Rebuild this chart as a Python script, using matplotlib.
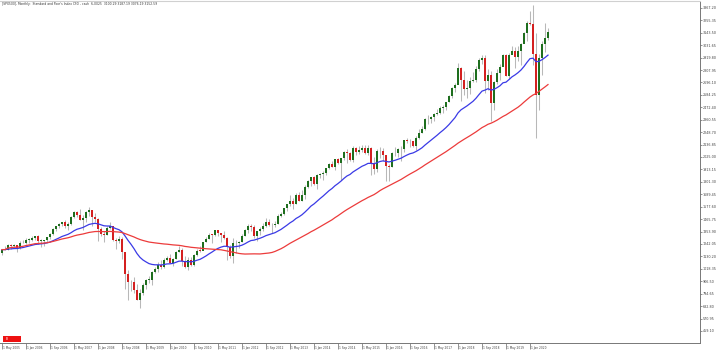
import matplotlib
matplotlib.use('Agg')
import matplotlib.pyplot as plt
import matplotlib.transforms as mtransforms
from matplotlib.patches import Rectangle
import numpy as np
import pandas as pd

# ---------------- data (monthly bars, May 2005 .. Jul 2020) ----------------
start_month = '2005-05-01'

opens = [
    1156.85, 1191.50, 1191.33, 1234.18, 1220.33, 1228.81, 1207.01, 1249.48,
    1248.29, 1280.08, 1280.66, 1294.87, 1310.61, 1270.09, 1270.20, 1276.66, 1303.82, 1335.85, 1377.94, 1400.63,
    1418.30, 1438.24, 1406.82, 1420.86, 1482.37, 1530.62, 1503.35, 1455.27, 1473.99, 1526.75, 1549.38, 1481.14,
    1468.36, 1378.55, 1330.63, 1322.70, 1385.59, 1400.38, 1280.00, 1267.38, 1282.83, 1166.36, 968.75, 896.24,
    903.25, 825.88, 735.09, 797.87, 872.81, 919.14, 919.32, 987.48, 1020.62, 1057.08, 1036.19, 1095.63,
    1115.10, 1073.87, 1104.49, 1169.43, 1186.69, 1089.41, 1030.71, 1101.60, 1049.33, 1141.20, 1183.26, 1180.55,
    1257.64, 1286.12, 1327.22, 1325.83, 1363.61, 1345.20, 1320.64, 1292.28, 1218.89, 1131.42, 1253.30, 1246.96,
    1257.60, 1312.41, 1365.68, 1408.47, 1397.91, 1310.33, 1362.16, 1379.32, 1406.58, 1440.67, 1412.16, 1416.18,
    1426.19, 1498.11, 1514.68, 1569.19, 1597.57, 1630.74, 1606.28, 1685.73, 1632.97, 1681.55, 1756.54, 1805.81,
    1848.36, 1782.59, 1859.45, 1872.34, 1883.95, 1923.57, 1960.23, 1930.67, 2003.37, 1972.29, 2018.05, 2067.56,
    2058.90, 1994.99, 2104.50, 2067.89, 2085.51, 2107.39, 2063.11, 2103.84, 1972.18, 1920.03, 2079.36, 2080.41,
    2043.94, 1940.24, 1932.23, 2059.74, 2065.30, 2096.95, 2098.86, 2173.60, 2170.95, 2168.27, 2126.15, 2198.81,
    2238.83, 2278.87, 2363.64, 2362.72, 2384.20, 2411.80, 2423.41, 2470.30, 2471.65, 2519.36, 2575.26, 2647.58,
    2673.61, 2823.81, 2713.83, 2640.87, 2648.05, 2705.27, 2718.37, 2816.29, 2901.52, 2913.98, 2711.74, 2760.17,
    2506.85, 2704.10, 2784.49, 2834.40, 2945.83, 2752.06, 2941.76, 2980.38, 2926.46, 2976.74, 3037.56, 3140.98,
    3230.78, 3225.52, 2954.22, 2584.59, 2912.43, 3044.31, 3100.29,
]

highs = [
    1199.56, 1219.59, 1245.15, 1245.86, 1243.13, 1233.34, 1270.64, 1275.80,
    1294.90, 1297.57, 1310.88, 1318.16, 1326.70, 1290.68, 1280.42, 1306.74, 1340.28, 1389.45, 1407.89, 1431.81,
    1441.61, 1461.57, 1438.89, 1498.02, 1535.56, 1540.56, 1555.90, 1503.89, 1538.74, 1576.09, 1545.79, 1523.57,
    1471.77, 1396.02, 1359.68, 1404.57, 1440.24, 1404.05, 1292.17, 1313.15, 1303.04, 1167.03, 1007.51, 918.85,
    943.85, 877.86, 832.98, 888.70, 930.17, 956.23, 996.68, 1039.47, 1080.15, 1101.36, 1113.69, 1130.38,
    1150.45, 1112.42, 1180.16, 1219.80, 1207.12, 1131.23, 1120.95, 1129.24, 1148.90, 1196.14, 1227.08, 1262.60,
    1302.67, 1344.07, 1332.28, 1366.63, 1370.58, 1345.20, 1356.48, 1307.38, 1229.29, 1292.66, 1277.55, 1269.37,
    1333.47, 1378.04, 1419.15, 1422.38, 1415.32, 1363.46, 1391.74, 1426.68, 1474.51, 1470.96, 1434.27, 1448.00,
    1509.94, 1530.94, 1570.28, 1597.35, 1687.18, 1654.19, 1698.78, 1709.67, 1729.86, 1775.22, 1813.55, 1849.44,
    1850.84, 1867.92, 1883.97, 1897.28, 1924.03, 1968.17, 1991.39, 2005.04, 2019.26, 2018.19, 2075.76, 2093.55,
    2072.36, 2119.59, 2117.52, 2125.92, 2134.72, 2129.87, 2132.82, 2112.66, 2020.86, 2094.32, 2116.48, 2104.27,
    2038.20, 1962.96, 2072.21, 2111.05, 2103.48, 2120.55, 2177.09, 2193.81, 2187.87, 2169.60, 2214.10, 2277.53,
    2300.99, 2371.54, 2400.98, 2398.16, 2418.71, 2453.82, 2484.04, 2490.87, 2519.44, 2582.98, 2657.74, 2694.97,
    2872.87, 2835.96, 2801.90, 2717.49, 2742.24, 2791.47, 2848.03, 2916.50, 2940.91, 2939.86, 2815.15, 2800.18,
    2708.95, 2813.49, 2860.31, 2949.52, 2954.13, 2964.15, 3027.98, 3013.59, 3021.99, 3050.10, 3154.26, 3247.93,
    3337.77, 3393.52, 3136.72, 2954.86, 3068.67, 3233.13, 3187.19,
]

lows = [
    1146.18, 1188.30, 1183.55, 1201.07, 1205.35, 1168.20, 1201.07, 1246.59,
    1245.74, 1253.61, 1268.42, 1280.74, 1245.34, 1219.29, 1224.54, 1261.30, 1290.93, 1327.10, 1360.98, 1385.93,
    1403.97, 1389.42, 1363.98, 1416.37, 1476.70, 1484.18, 1454.25, 1370.60, 1439.29, 1489.56, 1406.10, 1435.65,
    1270.05, 1316.75, 1256.98, 1324.35, 1373.72, 1272.00, 1200.44, 1248.64, 1106.42, 839.80, 741.02, 815.69,
    804.47, 734.52, 666.79, 783.32, 839.57, 888.86, 869.32, 978.51, 991.97, 1019.95, 1029.38, 1085.89,
    1071.59, 1044.50, 1105.24, 1170.69, 1040.78, 1028.33, 1010.91, 1039.70, 1041.11, 1131.87, 1173.00, 1186.60,
    1257.62, 1289.14, 1249.05, 1312.70, 1311.80, 1258.07, 1282.86, 1101.54, 1114.22, 1074.77, 1158.66, 1202.37,
    1257.60, 1312.41, 1340.03, 1357.38, 1291.98, 1266.74, 1325.41, 1354.65, 1396.56, 1403.28, 1343.35, 1398.11,
    1426.19, 1485.01, 1501.48, 1536.03, 1581.28, 1560.33, 1604.57, 1627.47, 1633.41, 1646.47, 1746.20, 1767.99,
    1770.45, 1737.92, 1834.44, 1814.36, 1859.79, 1915.98, 1930.67, 1904.78, 1964.04, 1820.66, 2001.01, 1972.56,
    1988.12, 1980.90, 2039.69, 2048.38, 2067.93, 2056.32, 2044.02, 1867.01, 1871.91, 1893.70, 2019.39, 1993.26,
    1812.29, 1810.10, 1937.09, 2033.80, 2025.91, 1991.68, 2074.02, 2147.58, 2119.12, 2114.72, 2083.79, 2187.44,
    2245.13, 2271.65, 2322.25, 2328.95, 2352.72, 2405.70, 2407.70, 2417.35, 2446.55, 2520.40, 2557.45, 2605.52,
    2682.36, 2532.69, 2585.89, 2553.80, 2594.62, 2698.95, 2698.95, 2796.34, 2864.12, 2603.54, 2631.09, 2346.58,
    2443.96, 2681.83, 2722.27, 2848.63, 2750.52, 2728.81, 2952.22, 2822.12, 2891.85, 2855.94, 3050.72, 3070.33,
    3214.64, 2855.84, 2191.86, 2447.49, 2766.64, 2965.66, 3076.19,
]

closes = [
    1191.50, 1191.33, 1234.18, 1220.33, 1228.81, 1207.01, 1249.48, 1248.29,
    1280.08, 1280.66, 1294.87, 1310.61, 1270.09, 1270.20, 1276.66, 1303.82, 1335.85, 1377.94, 1400.63, 1418.30,
    1438.24, 1406.82, 1420.86, 1482.37, 1530.62, 1503.35, 1455.27, 1473.99, 1526.75, 1549.38, 1481.14, 1468.36,
    1378.55, 1330.63, 1322.70, 1385.59, 1400.38, 1280.00, 1267.38, 1282.83, 1166.36, 968.75, 896.24, 903.25,
    825.88, 735.09, 797.87, 872.81, 919.14, 919.32, 987.48, 1020.62, 1057.08, 1036.19, 1095.63, 1115.10,
    1073.87, 1104.49, 1169.43, 1186.69, 1089.41, 1030.71, 1101.60, 1049.33, 1141.20, 1183.26, 1180.55, 1257.64,
    1286.12, 1327.22, 1325.83, 1363.61, 1345.20, 1320.64, 1292.28, 1218.89, 1131.42, 1253.30, 1246.96, 1257.60,
    1312.41, 1365.68, 1408.47, 1397.91, 1310.33, 1362.16, 1379.32, 1406.58, 1440.67, 1412.16, 1416.18, 1426.19,
    1498.11, 1514.68, 1569.19, 1597.57, 1630.74, 1606.28, 1685.73, 1632.97, 1681.55, 1756.54, 1805.81, 1848.36,
    1782.59, 1859.45, 1872.34, 1883.95, 1923.57, 1960.23, 1930.67, 2003.37, 1972.29, 2018.05, 2067.56, 2058.90,
    1994.99, 2104.50, 2067.89, 2085.51, 2107.39, 2063.11, 2103.84, 1972.18, 1920.03, 2079.36, 2080.41, 2043.94,
    1940.24, 1932.23, 2059.74, 2065.30, 2096.95, 2098.86, 2173.60, 2170.95, 2168.27, 2126.15, 2198.81, 2238.83,
    2278.87, 2363.64, 2362.72, 2384.20, 2411.80, 2423.41, 2470.30, 2471.65, 2519.36, 2575.26, 2647.58, 2673.61,
    2823.81, 2713.83, 2640.87, 2648.05, 2705.27, 2718.37, 2816.29, 2901.52, 2913.98, 2711.74, 2760.17, 2506.85,
    2704.10, 2784.49, 2834.40, 2945.83, 2752.06, 2941.76, 2980.38, 2926.46, 2976.74, 3037.56, 3140.98, 3230.78,
    3225.52, 2954.22, 2584.59, 2912.43, 3044.31, 3100.29, 3152.59,
]

fast_period = 20   # exponential MA (blue)
slow_period = 50   # simple MA (red)

x_tick_labels = [
    '1 May 2005', '1 Jan 2006', '1 Sep 2006', '1 May 2007', '1 Jan 2008', '1 Sep 2008',
    '1 May 2009', '1 Jan 2010', '1 Sep 2010', '1 May 2011', '1 Jan 2012', '1 Sep 2012',
    '1 May 2013', '1 Jan 2014', '1 Sep 2014', '1 May 2015', '1 Jan 2016', '1 Sep 2016',
    '1 May 2017', '1 Jan 2018', '1 Sep 2018', '1 May 2019', '1 Jan 2020',
]

y_tick_values = [
    3367.20, 3255.35, 3143.50, 3031.65, 2919.80, 2807.95, 2696.10, 2584.25, 2472.40,
    2360.55, 2248.70, 2136.85, 2025.00, 1913.15, 1801.30, 1689.45, 1577.60, 1465.75,
    1353.90, 1242.05, 1130.20, 1018.35, 906.50, 794.65, 682.80, 570.95, 459.10,
]

title_text = ("[SPX500], Monthly:  Standard and Poor's Index CFD - cash  6,0025  "
              "3100.29 3187.19 3076.19 3152.59")

# ---------------- figure ----------------
W, H = 720, 353
fig = plt.figure(figsize=(W / 100, H / 100), dpi=100)
fig.patch.set_facecolor('white')
ax_left, ax_right, ax_bottom, ax_top = 0, 700, 343, 1  # pixel coords
ax = fig.add_axes([ax_left / W, (H - ax_bottom) / H,
                   (ax_right - ax_left) / W, (ax_bottom - ax_top) / H])
ax.set_facecolor('white')

o = np.array(opens); h = np.array(highs); l = np.array(lows); c = np.array(closes)
idx = np.arange(len(c))

# wicks
ax.vlines(idx, l, h, color='#b8b8b8', linewidth=0.75, zorder=2)

# bodies
up = c >= o
green = '#1e6e1e'
red = '#d42020'
bottoms = np.minimum(o, c)
heights = np.maximum(np.abs(c - o), 4.0)
ax.bar(idx[up], heights[up], bottom=bottoms[up], width=0.7, color=green,
       linewidth=0, zorder=3)
ax.bar(idx[~up], heights[~up], bottom=bottoms[~up], width=0.7, color=red,
       linewidth=0, zorder=3)

# moving averages
s = pd.Series(c, index=idx)
ma_fast = s.ewm(span=fast_period, adjust=False).mean()
ma_slow = s.rolling(slow_period, min_periods=1).mean()
ax.plot(idx, ma_fast.values, color='#3a3ae6', linewidth=0.9, zorder=4)
ax.plot(idx, ma_slow.values, color='#ec3b3b', linewidth=0.9, zorder=4)

# limits: index i sits at pixel 2 + 3 i ; price scale ~9 points/pixel
ax.set_xlim(-2 / 3, (ax_right - 2) / 3)
ax.set_ylim(351, 3429)

# spines
ax.spines['left'].set_visible(False)
ax.spines['top'].set_color('#d0d0d0')
ax.spines['top'].set_linewidth(0.8)
ax.spines['right'].set_color('#777777')
ax.spines['right'].set_linewidth(0.7)
ax.spines['bottom'].set_color('#777777')
ax.spines['bottom'].set_linewidth(0.7)

# y axis on the right
ax.yaxis.tick_right()
ax.set_yticks(y_tick_values)
ax.set_yticklabels([f'{v:.2f}' for v in y_tick_values])
ax.tick_params(axis='y', direction='out', length=1.6, width=0.5, color='#666666',
               pad=0.6, labelsize=2.4, labelcolor='#444444')

# x axis ticks every 8 months with left aligned labels
x_ticks = list(range(0, len(c), 8))[:len(x_tick_labels)]
ax.set_xticks(x_ticks)
ax.set_xticklabels([''] * len(x_ticks))
ax.tick_params(axis='x', direction='out', length=4.0, width=0.5, color='#666666')
trans = mtransforms.blended_transform_factory(ax.transData, ax.transAxes)
for xt, lab in zip(x_ticks, x_tick_labels):
    ax.text(xt + 0.4, -5.2 / (ax_bottom - ax_top), lab, transform=trans,
            ha='left', va='center', fontsize=2.1, color='#444444', clip_on=False)

# title
fig.text(2 / W, 1 - 4.5 / H, title_text, ha='left', va='center',
         fontsize=2.2, color='#333333')

# red one-click box bottom-left
fig.patches.append(Rectangle((3 / W, (H - 342) / H), 18 / W, 6 / H,
                             transform=fig.transFigure, facecolor='#ee1111',
                             edgecolor='none', zorder=5))
fig.text(5.5 / W, (H - 339) / H, 'B', ha='left', va='center', fontsize=2.2,
         color='white', zorder=6)

fig.savefig('out.png', dpi=100, facecolor='white')
